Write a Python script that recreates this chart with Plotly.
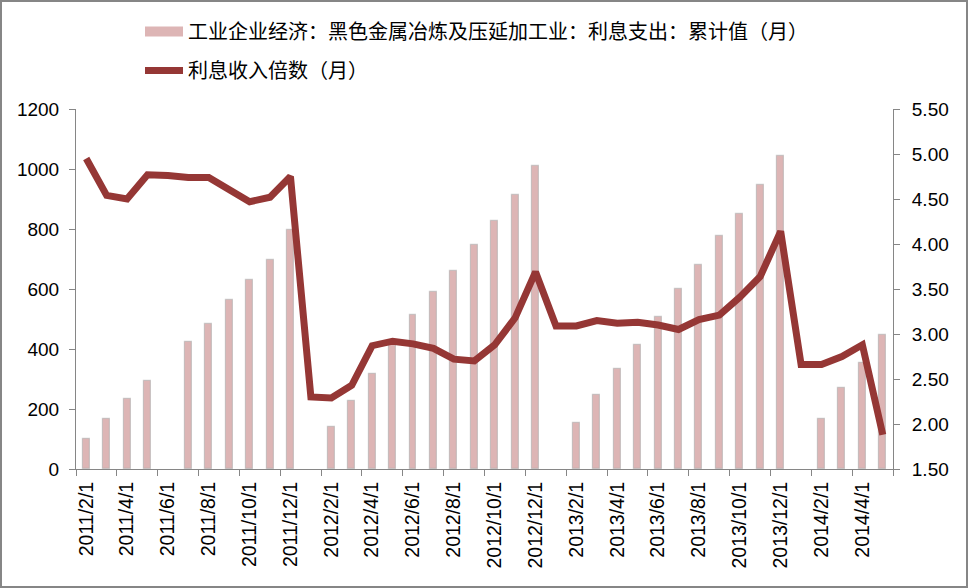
import plotly.graph_objects as go

months = ["2011/2/1","2011/3/1","2011/4/1","2011/5/1","2011/6/1","2011/7/1","2011/8/1","2011/9/1",
          "2011/10/1","2011/11/1","2011/12/1","2012/1/1","2012/2/1","2012/3/1","2012/4/1","2012/5/1",
          "2012/6/1","2012/7/1","2012/8/1","2012/9/1","2012/10/1","2012/11/1","2012/12/1","2013/1/1",
          "2013/2/1","2013/3/1","2013/4/1","2013/5/1","2013/6/1","2013/7/1","2013/8/1","2013/9/1",
          "2013/10/1","2013/11/1","2013/12/1","2014/1/1","2014/2/1","2014/3/1","2014/4/1","2014/5/1"]

interest_expense = [101, 168, 234, 292, None, 424, 484, 564, 631, 698, 798, None,
                    141, 228, 318, 414, 514, 589, 659, 748, 828, 914, 1011, None,
                    155, 248, 334, 414, 506, 601, 681, 778, 851, 948, 1044, None,
                    168, 271, 354, 448]

coverage = [4.95, 4.54, 4.50, 4.77, 4.76, 4.74, 4.74, 4.60, 4.47, 4.52, 4.75, 2.30,
            2.29, 2.43, 2.87, 2.92, 2.89, 2.84, 2.72, 2.70, 2.88, 3.18, 3.69, 3.09,
            3.09, 3.15, 3.12, 3.13, 3.10, 3.05, 3.16, 3.21, 3.41, 3.64, 4.14, 2.66,
            2.66, 2.75, 2.88, 1.88]

bar_name = "工业企业经济：黑色金属冶炼及压延加工业：利息支出：累计值（月）"
line_name = "利息收入倍数（月）"

idx = list(range(len(months)))
label_idx = idx[::2]
label_text = [months[i] for i in label_idx]

FONT = "Liberation Sans, Noto Sans CJK SC, sans-serif"
AX = "#868686"
BAR_C = "#DDB5B5"
LINE_C = "#953735"

fig = go.Figure()
fig.add_trace(go.Bar(
    x=idx, y=interest_expense, name=bar_name, width=0.34, showlegend=False,
    marker=dict(color=BAR_C, line=dict(color="rgba(170,170,170,0.55)", width=1.2)),
))
fig.add_trace(go.Scatter(
    x=idx, y=coverage, name=line_name, yaxis="y2", mode="lines", showlegend=False,
    line=dict(color=LINE_C, width=7),
))
# legend entries (wide rect-like key for the bars, thick line key for the line)
fig.add_trace(go.Scatter(
    x=[None], y=[None], name=bar_name, mode="lines",
    line=dict(color=BAR_C, width=12), legendgroup="a",
))
fig.add_trace(go.Scatter(
    x=[None], y=[None], name=line_name, mode="lines", yaxis="y2",
    line=dict(color=LINE_C, width=7), legendgroup="b",
))

W, H = 968, 588
ml, mr, mt, mb = 76, 75, 109, 119
pw, ph = W - ml - mr, H - mt - mb

fig.update_layout(
    width=W, height=H,
    margin=dict(l=ml, r=mr, t=mt, b=mb, autoexpand=False),
    paper_bgcolor="white", plot_bgcolor="white",
    font=dict(family=FONT, size=19, color="#000000"),
    showlegend=True,
    legend=dict(
        xref="paper", yref="paper", x=(140 - ml) / pw, y=1 + (mt - 12) / ph,
        xanchor="left", yanchor="top", orientation="v",
        font=dict(size=20), tracegroupgap=10, traceorder="grouped",
        bgcolor="rgba(0,0,0,0)", itemwidth=38,
    ),
    bargap=0,
    xaxis=dict(
        range=[-0.5, len(months) - 0.5], tickmode="array", tickvals=label_idx, ticktext=label_text,
        tickangle=-90, ticks="", showline=True, linecolor=AX, linewidth=1, showgrid=False,
        zeroline=False, tickfont=dict(size=19.5), automargin=False, ticklabelstandoff=4,
        minor=dict(ticks="outside", tick0=-0.5, dtick=2, ticklen=6, tickcolor=AX, showgrid=False),
    ),
    yaxis=dict(
        range=[0, 1200], dtick=200, showline=True, linecolor=AX, ticks="outside", ticklen=6,
        tickcolor=AX, showgrid=False, zeroline=False, tickfont=dict(size=19), automargin=False,
        ticklabelstandoff=6,
    ),
    yaxis2=dict(
        range=[1.5, 5.5], dtick=0.5, tickformat=".2f", overlaying="y", side="right",
        showline=True, linecolor=AX, ticks="outside", ticklen=6, tickcolor=AX,
        showgrid=False, zeroline=False, tickfont=dict(size=19), automargin=False,
        ticklabelstandoff=8,
    ),
    shapes=[dict(
        type="rect", xref="paper", yref="paper",
        x0=-(ml - 1) / pw, x1=1 + (mr - 1) / pw, y0=-(mb - 1) / ph, y1=1 + (mt - 1) / ph,
        line=dict(color="#868686", width=2), fillcolor="rgba(0,0,0,0)", layer="below",
    )],
)

fig.write_html("out.html")
